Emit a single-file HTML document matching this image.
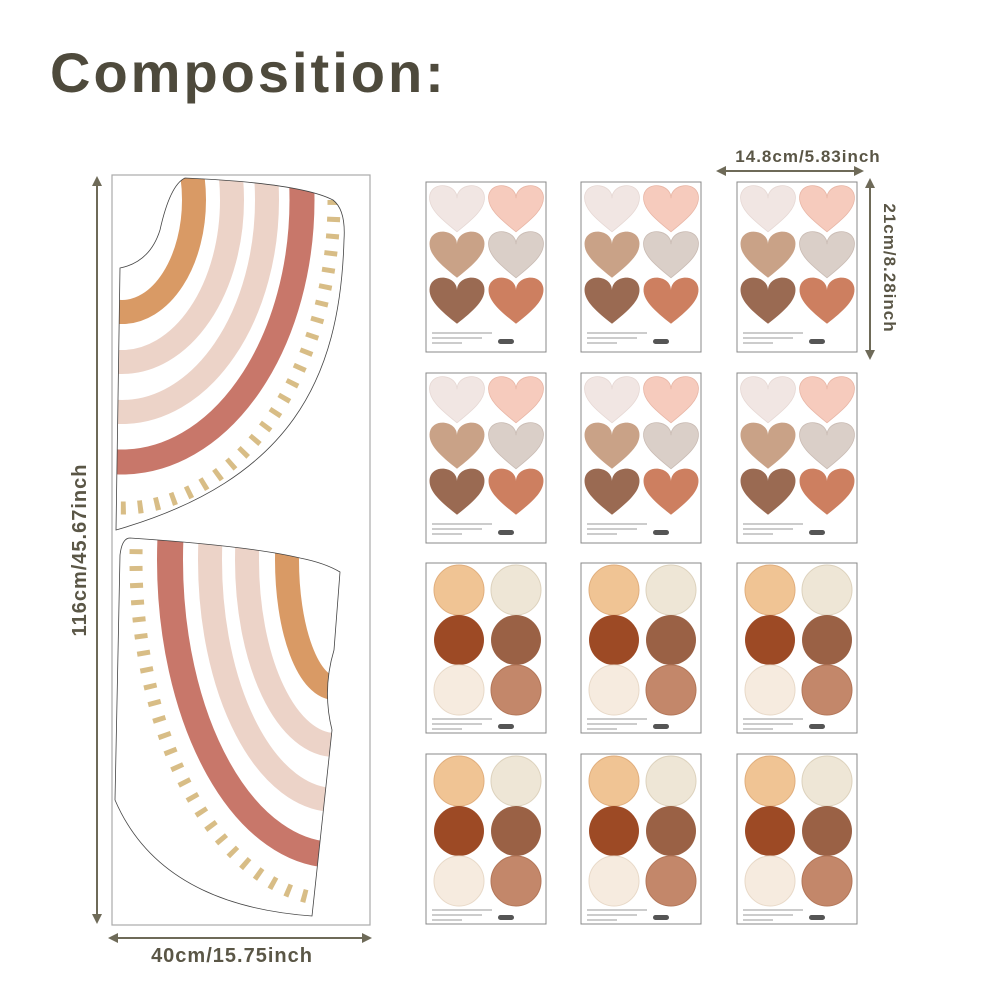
<!DOCTYPE html>
<html><head><style>
body{margin:0;background:#fff}
svg{display:block}
text{font-family:"Liberation Sans",sans-serif;fill:#5a5646}
</style></head><body>
<svg width="1000" height="1000" viewBox="0 0 1000 1000" xmlns="http://www.w3.org/2000/svg">
<defs>
<marker id="ar" markerWidth="10" markerHeight="10" refX="8" refY="5" orient="auto" markerUnits="userSpaceOnUse"><path d="M0,0 L10,5 L0,10 z" fill="#6e6a58"/></marker>
<path id="p1" d="M185,178 Q300,183 333,200 Q346,210 344,240 C340,380 290,480 116,530 L120,268 Q150,262 160,230 Q170,185 185,178 z"/>
<path id="p2" d="M130,538 Q250,546 300,558 Q325,563 340,572 L334,650 Q322,690 332,730 L312,916 Q160,905 115,800 L120,555 Q122,538 130,538 z"/>
<clipPath id="c1"><use href="#p1"/></clipPath>
<clipPath id="c2"><use href="#p2"/></clipPath>
<g id="heart"><path transform="scale(0.8)" d="M0,14 C0,-4 -30,-8 -34,10 C-37,26 -20,40 0,56 C20,40 37,26 34,10 C30,-8 0,-4 0,14 z"/></g>
<g id="hs">
<rect x="0" y="0" width="120" height="170" fill="#fff" stroke="#888" stroke-width="1"/>
<use href="#heart" x="31" y="5" fill="#f1e6e3" stroke="#e6d8d4"/>
<use href="#heart" x="90" y="5" fill="#f6cbbd" stroke="#e8b6a6"/>
<use href="#heart" x="31" y="51" fill="#c9a287"/>
<use href="#heart" x="90" y="51" fill="#dacfc8" stroke="#c9bbb3"/>
<use href="#heart" x="31" y="97" fill="#9a6a52"/>
<use href="#heart" x="90" y="97" fill="#cd7f60"/>
<rect x="6" y="150" width="60" height="2" fill="#ccc"/><rect x="6" y="155" width="50" height="2" fill="#ccc"/><rect x="6" y="160" width="30" height="2" fill="#ccc"/>
<rect x="72" y="157" width="16" height="5" rx="2.5" fill="#555"/>
</g>
<g id="cs">
<rect x="0" y="0" width="120" height="170" fill="#fff" stroke="#888" stroke-width="1"/>
<circle cx="33" cy="27" r="25" fill="#f0c494" stroke="#e0ae7d"/>
<circle cx="90" cy="27" r="25" fill="#eee6d6" stroke="#ddd2bd"/>
<circle cx="33" cy="77" r="25" fill="#9d4a25"/>
<circle cx="90" cy="77" r="25" fill="#9a6145"/>
<circle cx="33" cy="127" r="25" fill="#f6ebdf" stroke="#e8d9c8"/>
<circle cx="90" cy="127" r="25" fill="#c3876a" stroke="#b37658"/>
<rect x="6" y="155" width="60" height="2" fill="#ccc"/><rect x="6" y="160" width="50" height="2" fill="#ccc"/><rect x="6" y="165" width="30" height="2" fill="#ccc"/>
<rect x="72" y="161" width="16" height="5" rx="2.5" fill="#555"/>
</g>
</defs>
<text x="50" y="92" font-size="56" font-weight="bold" letter-spacing="3" style="fill:#4e4a3c">Composition:</text>

<rect x="112" y="175" width="258" height="750" fill="none" stroke="#aaa" stroke-width="1.2"/>
<g clip-path="url(#c1)" fill="none">
<ellipse cx="122" cy="200" rx="72" ry="112" stroke="#d99a65" stroke-width="24"/>
<ellipse cx="122" cy="200" rx="110" ry="162" stroke="#ecd3c8" stroke-width="24"/>
<ellipse cx="122" cy="200" rx="145" ry="212" stroke="#ecd3c8" stroke-width="24"/>
<ellipse cx="122" cy="200" rx="180" ry="262" stroke="#c8776a" stroke-width="25"/>
<ellipse cx="122" cy="200" rx="212" ry="308" stroke="#d8bd86" stroke-width="13" stroke-dasharray="5 12"/>
</g>
<use href="#p1" fill="none" stroke="#444" stroke-width="0.8"/>
<g clip-path="url(#c2)" fill="none">
<ellipse cx="335" cy="560" rx="48" ry="128" stroke="#d99a65" stroke-width="24"/>
<ellipse cx="335" cy="560" rx="88" ry="185" stroke="#ecd3c8" stroke-width="24"/>
<ellipse cx="335" cy="560" rx="125" ry="240" stroke="#ecd3c8" stroke-width="24"/>
<ellipse cx="335" cy="560" rx="165" ry="295" stroke="#c8776a" stroke-width="26"/>
<ellipse cx="335" cy="560" rx="199" ry="340" stroke="#d8bd86" stroke-width="13" stroke-dasharray="5 12"/>
</g>
<use href="#p2" fill="none" stroke="#444" stroke-width="0.8"/>

<line x1="97" y1="922" x2="97" y2="178" stroke="#6e6a58" stroke-width="2" marker-end="url(#ar)"/>
<line x1="97" y1="178" x2="97" y2="922" stroke="#6e6a58" stroke-width="2" marker-end="url(#ar)"/>
<text transform="translate(86,550) rotate(-90)" text-anchor="middle" font-size="20" font-weight="bold" letter-spacing="1">116cm/45.67inch</text>
<line x1="110" y1="938" x2="370" y2="938" stroke="#6e6a58" stroke-width="2" marker-end="url(#ar)"/>
<line x1="370" y1="938" x2="110" y2="938" stroke="#6e6a58" stroke-width="2" marker-end="url(#ar)"/>
<text x="232" y="962" text-anchor="middle" font-size="20" font-weight="bold" letter-spacing="1">40cm/15.75inch</text>
<line x1="718" y1="171" x2="862" y2="171" stroke="#6e6a58" stroke-width="2" marker-end="url(#ar)"/>
<line x1="862" y1="171" x2="718" y2="171" stroke="#6e6a58" stroke-width="2" marker-end="url(#ar)"/>
<text x="808" y="162" text-anchor="middle" font-size="17" font-weight="bold" letter-spacing="1">14.8cm/5.83inch</text>
<line x1="870" y1="180" x2="870" y2="358" stroke="#6e6a58" stroke-width="2" marker-end="url(#ar)"/>
<line x1="870" y1="358" x2="870" y2="180" stroke="#6e6a58" stroke-width="2" marker-end="url(#ar)"/>
<text transform="translate(884,268) rotate(90)" text-anchor="middle" font-size="17" font-weight="bold" letter-spacing="1">21cm/8.28inch</text>

<use href="#hs" transform="translate(426,182)"/>
<use href="#hs" transform="translate(581,182)"/>
<use href="#hs" transform="translate(737,182)"/>
<use href="#hs" transform="translate(426,373)"/>
<use href="#hs" transform="translate(581,373)"/>
<use href="#hs" transform="translate(737,373)"/>
<use href="#cs" transform="translate(426,563)"/>
<use href="#cs" transform="translate(581,563)"/>
<use href="#cs" transform="translate(737,563)"/>
<use href="#cs" transform="translate(426,754)"/>
<use href="#cs" transform="translate(581,754)"/>
<use href="#cs" transform="translate(737,754)"/>
</svg>
</body></html>
